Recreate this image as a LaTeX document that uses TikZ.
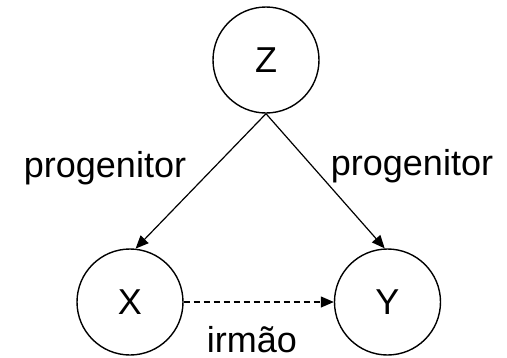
\documentclass[tikz,border=0pt]{standalone}
\usepackage{fontspec}
\setmainfont{Liberation Sans}
\usetikzlibrary{arrows.meta}
\begin{document}
\begin{tikzpicture}[x=1pt,y=-1pt,
  state/.style={circle,draw,line width=1.4pt,minimum size=106pt,inner sep=0pt,font=\fontsize{36}{40}\selectfont},
  lbl/.style={anchor=base,inner sep=0pt,font=\fontsize{36}{40}\selectfont},
  edge/.style={line width=1.2pt,-{Triangle[length=13pt,width=11pt]}}]
\useasboundingbox (0,0) rectangle (507,357);
\node[state] (Z) at (266,60) {Z};
\node[state] (X) at (130,302) {X};
\node[state] (Y) at (387.5,302) {Y};
\draw[edge] (Z.south) -- (X.84);
\draw[edge] (Z.south) -- (Y.93);
\draw[edge,dash pattern=on 6pt off 4pt] (X.east) -- (Y.west);
\node[lbl] (l1) at (105,177) {progenitor};
\node[lbl] (l2) at (412,175) {progenitor};
\node[lbl] (l3) at (252,352) {irmão};
\end{tikzpicture}
\end{document}
